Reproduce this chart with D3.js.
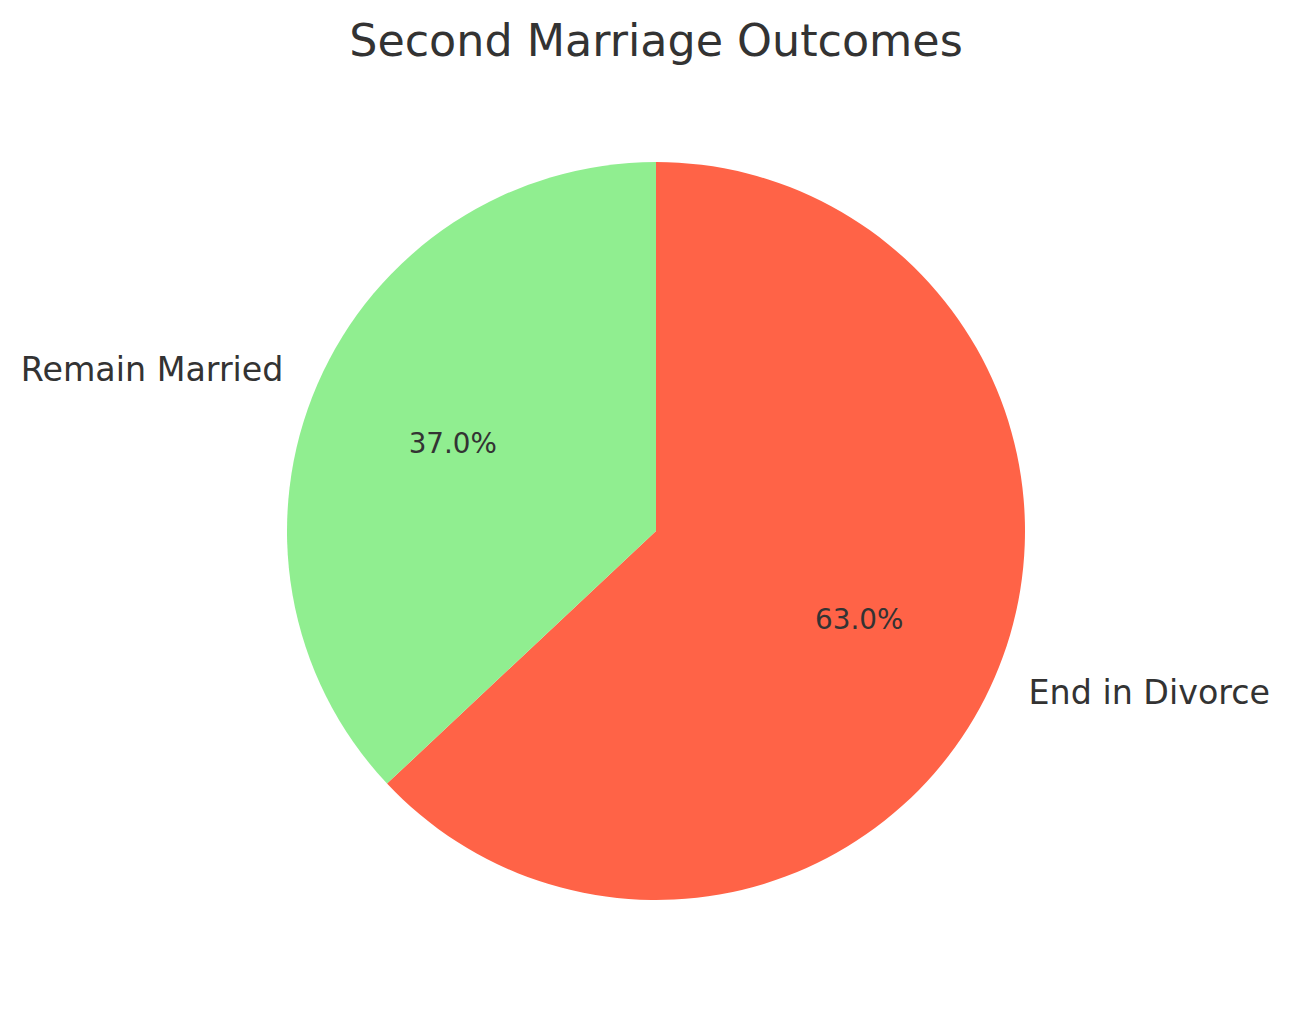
<!DOCTYPE html>
<html>
<head>
<meta charset="utf-8">
<script src="https://cdn.jsdelivr.net/npm/d3@7"></script>
<style>
html,body{margin:0;padding:0;background:#fff;}
svg text{font-family:"DejaVu Sans",sans-serif;fill:#333333;}
</style>
</head>
<body>
<svg id="chart" width="1291" height="1014"></svg>
<script>
const categories = ["End in Divorce", "Remain Married"];
const values = [63.0, 37.0];
const colors = ["#FF6347", "#90EE90"];
const title = "Second Marriage Outcomes";

const svg = d3.select("#chart");
const cx = 656, cy = 531, r = 369;

svg.append("text")
  .attr("x", 656).attr("y", 56)
  .attr("text-anchor", "middle")
  .style("font-size", "44.4px")
  .text(title);

const pie = d3.pie().sort(null).value(d => d.v);
const data = pie(categories.map((c, i) => ({c, v: values[i], col: colors[i]})));
const arc = d3.arc().innerRadius(0).outerRadius(r);
const g = svg.append("g").attr("transform", `translate(${cx},${cy})`);

g.selectAll("path").data(data).enter().append("path")
  .attr("d", arc)
  .attr("fill", d => d.data.col);

const total = d3.sum(values);
data.forEach(d => {
  const a = (d.startAngle + d.endAngle) / 2;
  const lx = Math.sin(a) * r * 1.1, ly = -Math.cos(a) * r * 1.1;
  g.append("text")
    .attr("x", lx).attr("y", ly)
    .attr("text-anchor", lx < 0 ? "end" : "start")
    .attr("dy", "0.35em")
    .style("font-size", "33.3px")
    .text(d.data.c);
  const px = Math.sin(a) * r * 0.6, py = -Math.cos(a) * r * 0.6;
  g.append("text")
    .attr("x", px).attr("y", py)
    .attr("text-anchor", "middle")
    .attr("dy", "0.35em")
    .style("font-size", "27.8px")
    .text((d.data.v / total * 100).toFixed(1) + "%");
});
</script>
</body>
</html>
